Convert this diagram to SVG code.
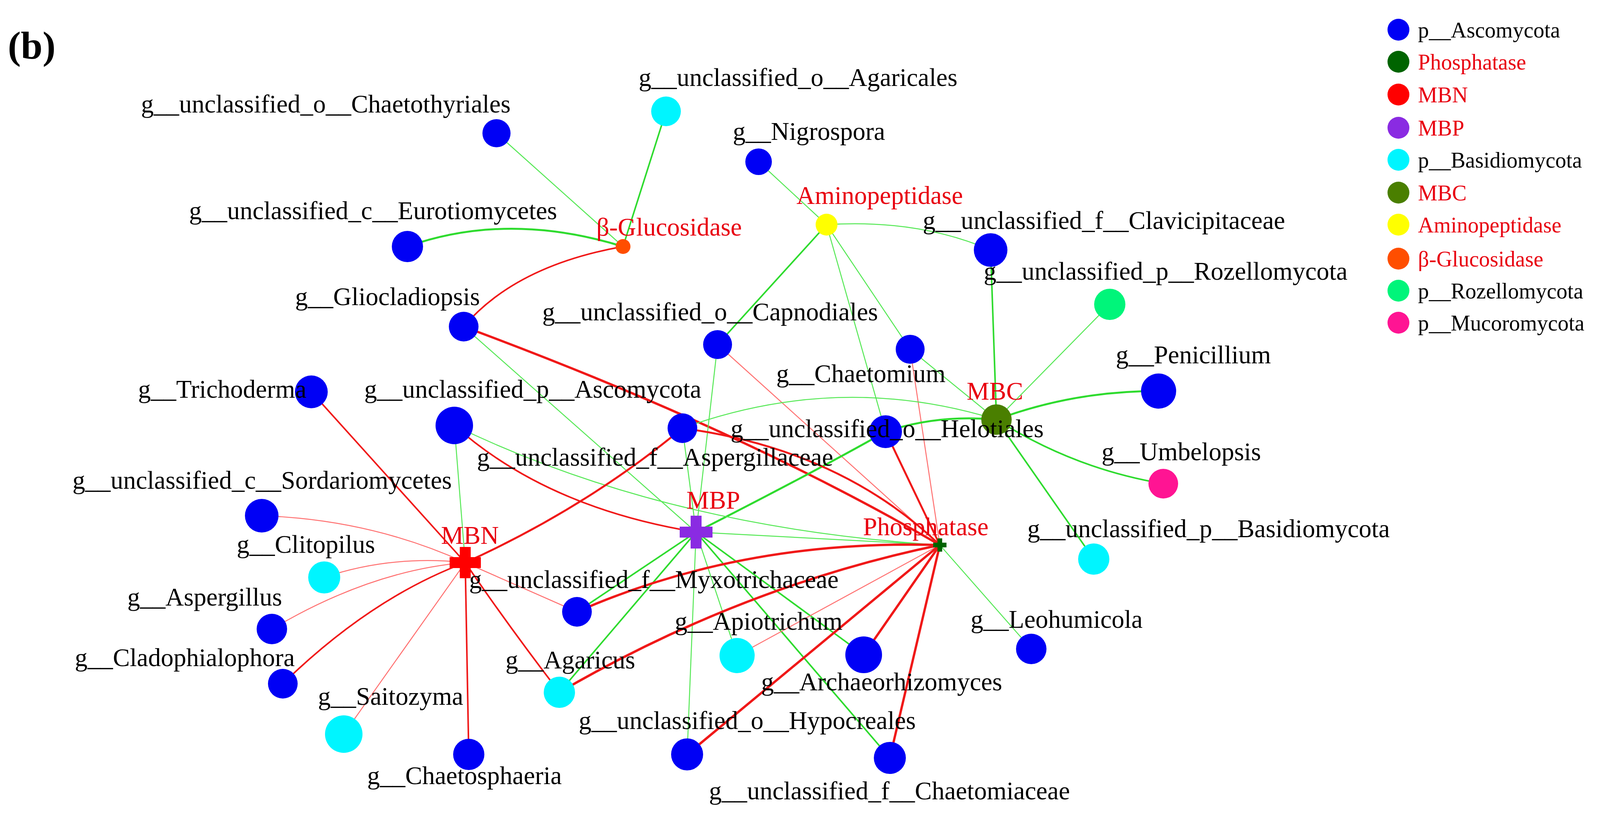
<svg xmlns="http://www.w3.org/2000/svg" width="4419" height="2104" viewBox="0 0 4419 2104">
<style>
text{font-family:"Liberation Serif","Times New Roman",serif;font-size:65px;fill:#000;text-anchor:middle}
.r{fill:#E8000F}
.lg{text-anchor:start;font-size:56px}
.e{fill:none}
.rt{stroke:#F01818;stroke-width:6}
.rs{stroke:#FF7070;stroke-width:2.5}
.gt{stroke:#2EDB2E;stroke-width:5}
.gs{stroke:#55E855;stroke-width:2.5}
.asc{fill:#0000F5}.bas{fill:#00F5FF}
</style>
<rect width="4419" height="2104" fill="#fff"/>
<g id="connectors" class="e">
<path class="gt" d="M1043,631 Q1300,540 1595,631"/>
<path class="gs" d="M1271,341 L1595,631"/>
<path class="gt" style="stroke-width:4" d="M1705,285 L1595,631"/>
<path class="rt" style="stroke-width:4" d="M1187,836 Q1320,680 1595,631"/>
<path class="gs" d="M1942,414 L2116,575"/>
<path class="gs" d="M2116,575 Q2350,560 2536,640"/>
<path class="gt" style="stroke-width:4" d="M2116,575 L1837,882"/>
<path class="gs" d="M2116,575 L2330,894"/>
<path class="gs" d="M2116,575 L2267,1105"/>
<path class="rt" d="M1187,836 Q1900,1100 2406,1395"/>
<path class="gs" d="M1187,836 L1782,1362"/>
<path class="gs" d="M1837,882 L1782,1362"/>
<path class="rs" d="M1837,882 L2406,1395"/>
<path class="gs" d="M2330,894 L2551,1074"/>
<path class="rs" d="M2330,894 L2406,1395"/>
<path class="gt" style="stroke-width:4" d="M2536,640 L2551,1074"/>
<path class="gs" d="M2841,779 L2551,1074"/>
<path class="gt" d="M2551,1074 Q2750,1000 2966,1001"/>
<path class="gt" style="stroke-width:4" d="M2551,1074 Q2750,1200 2978,1238"/>
<path class="gt" style="stroke-width:4" d="M2551,1074 L2800,1431"/>
<path class="gt" d="M2267,1105 Q2400,1060 2551,1074"/>
<path class="gs" d="M1747,1096 Q2150,950 2551,1074"/>
<path class="gt" d="M1782,1362 Q2100,1200 2267,1105"/>
<path class="rt" style="stroke-width:5" d="M2267,1105 L2406,1395"/>
<path class="rt" style="stroke-width:4" d="M797,1003 L1191,1440"/>
<path class="gs" d="M1163,1089 L1191,1440"/>
<path class="rt" style="stroke-width:4" d="M1163,1089 Q1400,1300 1782,1362"/>
<path class="gs" d="M1163,1089 Q1700,1350 2406,1395"/>
<path class="rt" style="stroke-width:5" d="M1191,1440 Q1500,1300 1747,1096"/>
<path class="gs" d="M1747,1096 L1782,1362"/>
<path class="rt" style="stroke-width:5" d="M1747,1096 Q2150,1150 2406,1395"/>
<path class="rs" d="M670,1320 Q950,1330 1191,1440"/>
<path class="rs" d="M830,1478 Q1000,1420 1191,1440"/>
<path class="rs" d="M696,1610 Q950,1460 1191,1440"/>
<path class="rt" style="stroke-width:4" d="M724,1750 Q950,1530 1191,1440"/>
<path class="rs" d="M880,1879 L1191,1440"/>
<path class="rt" style="stroke-width:4" d="M1200,1931 L1191,1440"/>
<path class="rt" style="stroke-width:4" d="M1432,1772 Q1300,1600 1191,1440"/>
<path class="rs" d="M1477,1566 L1191,1440"/>
<path class="gs" d="M1782,1362 L2406,1395"/>
<path class="gt" style="stroke-width:4" d="M1782,1362 L1477,1566"/>
<path class="gt" style="stroke-width:4" d="M1782,1362 L1432,1772"/>
<path class="gs" d="M1782,1362 L1887,1678"/>
<path class="gs" d="M1782,1362 L1759,1931"/>
<path class="gt" style="stroke-width:4" d="M1782,1362 L2211,1676"/>
<path class="gt" style="stroke-width:4" d="M1782,1362 L2278,1940"/>
<path class="rt" d="M1477,1566 Q1900,1380 2406,1395"/>
<path class="rt" d="M1432,1772 Q1900,1500 2406,1395"/>
<path class="rs" d="M1887,1678 L2406,1395"/>
<path class="rt" d="M2211,1676 L2406,1395"/>
<path class="rt" d="M1759,1931 L2406,1395"/>
<path class="rt" d="M2278,1940 L2406,1395"/>
<path class="gs" d="M2406,1395 L2640,1661"/>
</g>
<text x="20" y="150" style="text-anchor:start;font-weight:bold;font-size:100px">(b)</text>
<g id="n_chaetothyriales"><circle class="asc" cx="1271" cy="341" r="36"/><text x="834" y="288">g__unclassified_o__Chaetothyriales</text></g>
<g id="n_agaricales"><circle class="bas" cx="1705" cy="285" r="38"/><text x="2043" y="220">g__unclassified_o__Agaricales</text></g>
<g id="n_nigrospora"><circle class="asc" cx="1942" cy="414" r="34"/><text x="2071" y="358">g__Nigrospora</text></g>
<g id="n_eurotiomycetes"><circle class="asc" cx="1043" cy="631" r="40"/><text x="955" y="561">g__unclassified_c__Eurotiomycetes</text></g>
<g id="n_bglu"><circle fill="#FF4E00" cx="1595" cy="631" r="19"/><text class="r" x="1713" y="603">β-Glucosidase</text></g>
<g id="n_amino"><circle fill="#FFFF00" cx="2116" cy="575" r="28"/><text class="r" x="2252" y="522">Aminopeptidase</text></g>
<g id="n_clavi"><circle class="asc" cx="2536" cy="640" r="43"/><text x="2826" y="586">g__unclassified_f__Clavicipitaceae</text></g>
<g id="n_rozello"><circle fill="#00F57A" cx="2841" cy="779" r="40"/><text x="2984" y="716">g__unclassified_p__Rozellomycota</text></g>
<g id="n_glioc"><circle class="asc" cx="1187" cy="836" r="38"/><text x="992" y="781">g__Gliocladiopsis</text></g>
<g id="n_capno"><circle class="asc" cx="1837" cy="882" r="37"/><text x="1818" y="820">g__unclassified_o__Capnodiales</text></g>
<g id="n_chaetomium"><circle class="asc" cx="2330" cy="894" r="37"/><text x="2204" y="978">g__Chaetomium</text></g>
<g id="n_penicillium"><circle class="asc" cx="2966" cy="1001" r="45"/><text x="3055" y="930">g__Penicillium</text></g>
<g id="n_trichoderma"><circle class="asc" cx="797" cy="1003" r="42"/><text x="569" y="1018">g__Trichoderma</text></g>
<g id="n_ascop"><circle class="asc" cx="1163" cy="1089" r="48"/><text x="1364" y="1018">g__unclassified_p__Ascomycota</text></g>
<g id="n_aspergillaceae"><circle class="asc" cx="1747" cy="1096" r="38"/><text x="1677" y="1192">g__unclassified_f__Aspergillaceae</text></g>
<g id="n_helotiales"><circle class="asc" cx="2267" cy="1105" r="42"/></g>
<g id="n_mbc"><circle fill="#4A7F00" cx="2551" cy="1074" r="39"/><text class="r" x="2547" y="1023">MBC</text></g>
<text x="2271" y="1119">g__unclassified_o__Helotiales</text>
<g id="n_umbelopsis"><circle fill="#FF1493" cx="2978" cy="1238" r="38"/><text x="3024" y="1178">g__Umbelopsis</text></g>
<g id="n_sordario"><circle class="asc" cx="670" cy="1320" r="43"/><text x="671" y="1251">g__unclassified_c__Sordariomycetes</text></g>
<g id="n_mbp"><path fill="#8A2BE2" d="M1768,1320h28v28h28v28h-28v28h-28v-28h-28v-28h28z"/><text class="r" x="1826" y="1302">MBP</text></g>
<g id="n_mbn"><path fill="#FF0000" d="M1177,1400h28v26h26v28h-26v26h-28v-26h-26v-28h26z"/><text class="r" x="1203" y="1392">MBN</text></g>
<g id="n_phosph"><path fill="#006400" d="M2400,1378h12v11h11v12h-11v11h-12v-11h-11v-12h11z"/><text class="r" x="2370" y="1370">Phosphatase</text></g>
<g id="n_basidio"><circle class="bas" cx="2800" cy="1431" r="40"/><text x="3094" y="1375">g__unclassified_p__Basidiomycota</text></g>
<g id="n_clitopilus"><circle class="bas" cx="830" cy="1478" r="41"/><text x="783" y="1415">g__Clitopilus</text></g>
<g id="n_myxo"><circle class="asc" cx="1477" cy="1566" r="38"/><text x="1674" y="1505">g__unclassified_f__Myxotrichaceae</text></g>
<g id="n_aspergillus"><circle class="asc" cx="696" cy="1610" r="39"/><text x="524" y="1550">g__Aspergillus</text></g>
<g id="n_apiotrichum"><circle class="bas" cx="1887" cy="1678" r="45"/><text x="1942" y="1612">g__Apiotrichum</text></g>
<g id="n_archaeo"><circle class="asc" cx="2211" cy="1676" r="47"/><text x="2257" y="1767">g__Archaeorhizomyces</text></g>
<g id="n_leohumicola"><circle class="asc" cx="2640" cy="1661" r="39"/><text x="2705" y="1607">g__Leohumicola</text></g>
<g id="n_cladophialophora"><circle class="asc" cx="724" cy="1750" r="38"/><text x="473" y="1705">g__Cladophialophora</text></g>
<g id="n_agaricus"><circle class="bas" cx="1432" cy="1772" r="40"/><text x="1460" y="1711">g__Agaricus</text></g>
<g id="n_saitozyma"><circle class="bas" cx="880" cy="1879" r="48"/><text x="1000" y="1804">g__Saitozyma</text></g>
<g id="n_hypocreales"><circle class="asc" cx="1759" cy="1931" r="41"/><text x="1913" y="1866">g__unclassified_o__Hypocreales</text></g>
<g id="n_chaetosphaeria"><circle class="asc" cx="1200" cy="1931" r="40"/><text x="1189" y="2007">g__Chaetosphaeria</text></g>
<g id="n_chaetomiaceae"><circle class="asc" cx="2278" cy="1940" r="41"/><text x="2277" y="2046">g__unclassified_f__Chaetomiaceae</text></g>
<g id="legend">
<circle class="asc" cx="3580" cy="76" r="28"/><text class="lg" x="3630" y="96">p__Ascomycota</text>
<circle fill="#006400" cx="3580" cy="158" r="28"/><text class="lg r" x="3630" y="178">Phosphatase</text>
<circle fill="#FF0000" cx="3580" cy="242" r="28"/><text class="lg r" x="3630" y="262">MBN</text>
<circle fill="#8A2BE2" cx="3580" cy="327" r="28"/><text class="lg r" x="3630" y="347">MBP</text>
<circle class="bas" cx="3580" cy="409" r="28"/><text class="lg" x="3630" y="429">p__Basidiomycota</text>
<circle fill="#4A7F00" cx="3580" cy="493" r="28"/><text class="lg r" x="3630" y="513">MBC</text>
<circle fill="#FFFF00" cx="3580" cy="575" r="28"/><text class="lg r" x="3630" y="595">Aminopeptidase</text>
<circle fill="#FF4E00" cx="3580" cy="662" r="28"/><text class="lg r" x="3630" y="682">β-Glucosidase</text>
<circle fill="#00F57A" cx="3580" cy="744" r="28"/><text class="lg" x="3630" y="764">p__Rozellomycota</text>
<circle fill="#FF1493" cx="3580" cy="826" r="28"/><text class="lg" x="3630" y="846">p__Mucoromycota</text>
</g>
</svg>
